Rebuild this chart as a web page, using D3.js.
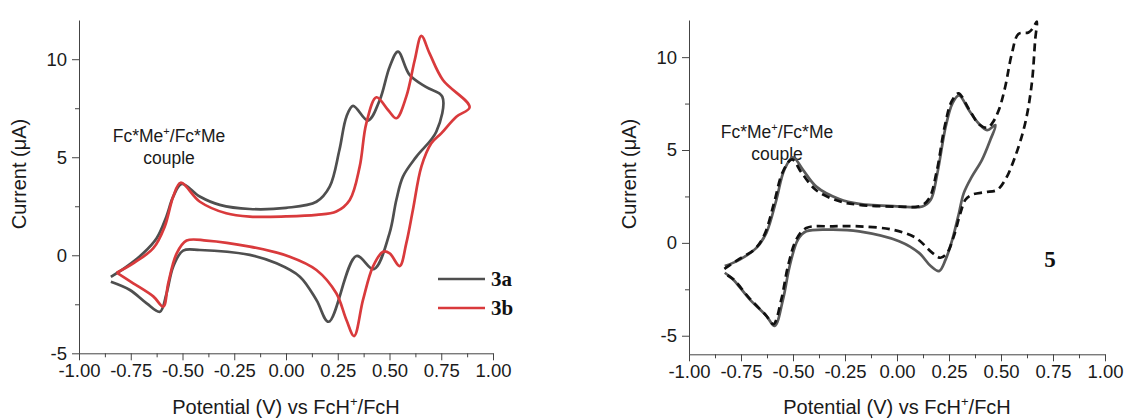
<!DOCTYPE html>
<html>
<head>
<meta charset="utf-8">
<script src="https://cdn.jsdelivr.net/npm/d3@7"></script>
<style>
  body { margin: 0; background: #fff; }
  svg { display: block; font-family: "Liberation Sans", Arial, sans-serif; }
  .axis path, .axis line { stroke: #444; }
  .axis text { fill: #1a1a1a; font-size: 18.5px; font-family: "Liberation Sans", Arial, sans-serif; }
</style>
</head>
<body>
<svg id="chart" width="1124" height="418"></svg>
<script>
// tick values
var xTicks = [-1, -0.75, -0.5, -0.25, 0, 0.25, 0.5, 0.75, 1];
var xMinor = [-0.875, -0.625, -0.375, -0.125, 0.125, 0.375, 0.625, 0.875];
var yTicks = [-5, 0, 5, 10];
var yMinor = [-2.5, 2.5, 7.5];

// left panel: 3a and 3b cyclic voltammograms [potential V, current uA]
var cv3a = [
  [-0.846,-1.1],[-0.77,-0.58],[-0.69,0.1],[-0.625,0.87],[-0.578,1.97],[-0.545,2.99],
  [-0.504,3.64],[-0.417,3.0],[-0.32,2.57],[-0.175,2.36],[0.0,2.42],[0.147,2.73],
  [0.211,3.5],[0.258,5.37],[0.292,7.07],[0.324,7.62],[0.396,6.87],[0.453,7.92],
  [0.501,9.62],[0.541,10.39],[0.597,9.2],[0.678,8.57],[0.755,8.09],
  [0.726,6.3],[0.63,5.03],[0.565,4.01],[0.533,2.82],[0.50,1.12],[0.424,-0.71],
  [0.34,-0.04],[0.206,-3.39],[0.147,-2.28],[0.067,-1.09],[-0.046,-0.41],[-0.175,0.02],
  [-0.416,0.27],[-0.497,0.24],[-0.545,-0.58],[-0.577,-1.94],[-0.609,-2.88],
  [-0.673,-2.45],[-0.754,-1.77],[-0.846,-1.35]
];
var cv3b = [
  [-0.818,-0.89],[-0.738,-0.41],[-0.641,0.36],[-0.586,1.46],[-0.545,2.99],[-0.509,3.7],
  [-0.416,2.73],[-0.289,2.14],[-0.175,1.97],[0.0,1.98],[0.147,2.06],[0.243,2.23],
  [0.308,2.82],[0.356,4.52],[0.388,6.73],[0.437,8.06],[0.493,7.41],[0.533,6.99],
  [0.581,8.09],[0.622,9.96],[0.654,11.19],[0.693,10.31],[0.758,8.94],[0.887,7.55],
  [0.823,7.07],[0.75,6.22],[0.702,5.71],[0.654,4.52],[0.613,2.31],[0.581,0.61],
  [0.549,-0.55],[0.501,0.1],[0.469,0.18],[0.42,-0.58],[0.372,-2.28],[0.329,-4.12],
  [0.292,-3.3],[0.243,-1.94],[0.147,-0.75],[0.018,-0.07],[-0.175,0.44],[-0.384,0.75],
  [-0.48,0.75],[-0.528,0.1],[-0.569,-1.43],[-0.593,-2.62],[-0.64,-2.11],
  [-0.738,-1.43],[-0.818,-0.89]
];

// right panel: compound 5, solid and dashed scans
var cv5 = [
  [-0.828,-1.25],[-0.756,-0.9],[-0.676,-0.27],[-0.628,0.54],[-0.58,2.32],[-0.542,3.93],
  [-0.50,4.6],[-0.452,3.93],[-0.388,3.03],[-0.278,2.36],[-0.182,2.1],[0.0,1.97],
  [0.122,1.96],[0.162,2.32],[0.194,3.75],[0.234,6.25],[0.266,7.5],[0.298,7.94],
  [0.346,7.14],[0.393,6.43],[0.433,6.07],[0.473,6.34],
  [0.448,5.53],[0.408,4.46],[0.36,3.57],[0.321,2.68],[0.298,1.61],[0.266,0.18],
  [0.234,-0.89],[0.202,-1.52],[0.162,-1.25],[0.106,-0.54],[0.01,0.09],[-0.182,0.62],
  [-0.309,0.71],[-0.436,0.62],[-0.476,0.18],[-0.516,-1.25],[-0.548,-3.04],
  [-0.588,-4.47],[-0.628,-3.93],[-0.708,-3.04],[-0.788,-1.97],[-0.828,-1.61]
];
var cv5ext = [
  [-0.83,-1.4],[-0.756,-0.85],[-0.68,-0.3],[-0.635,0.5],[-0.59,2.2],[-0.55,3.8],
  [-0.505,4.5],[-0.46,3.8],[-0.39,2.85],[-0.28,2.25],[-0.182,2.05],[0.0,1.95],
  [0.115,2.0],[0.155,2.4],[0.19,3.8],[0.23,6.3],[0.262,7.6],[0.295,8.05],[0.346,7.2],
  [0.393,6.4],[0.433,6.2],[0.457,6.43],[0.489,7.14],[0.52,8.39],[0.552,10.18],
  [0.584,11.25],[0.632,11.33],[0.656,11.6],[0.672,11.92],
  [0.664,10.89],[0.648,8.57],[0.616,6.43],[0.568,4.64],[0.52,3.39],[0.481,2.85],
  [0.424,2.73],[0.36,2.59],[0.329,2.32],[0.305,1.61],[0.273,0.35],[0.241,-0.54],
  [0.209,-0.8],[0.17,-0.54],[0.09,0.27],[-0.022,0.71],[-0.182,0.89],[-0.309,0.89],
  [-0.436,0.8],[-0.484,0.18],[-0.524,-1.25],[-0.556,-3.04],[-0.594,-4.38],
  [-0.63,-3.9],[-0.708,-3.0],[-0.788,-1.95],[-0.83,-1.65]
];

var legendNames = ["3a", "3b"];
var legendColors = ["#4f4f4f", "#d93a3c"];

var svg = d3.select("#chart");

var drawPanel = function(p){
    var xScale = d3.scaleLinear().domain([-1, 1]).range([p.left, p.right]);
    var yScale = d3.scaleLinear().domain(p.yDomain).range([p.bottom, p.top]);

    // minor ticks first
    svg.append("g").attr("class", "axis")
        .attr("transform", "translate(0," + p.bottom + ")")
        .call(d3.axisBottom(xScale).tickValues(xMinor).tickSize(4).tickSizeOuter(0).tickFormat(""))
        .select(".domain").remove();
    svg.append("g").attr("class", "axis")
        .attr("transform", "translate(" + p.left + ",0)")
        .call(d3.axisLeft(yScale).tickValues(yMinor).tickSize(4).tickSizeOuter(0).tickFormat(""))
        .select(".domain").remove();

    svg.append("g").attr("class", "axis")
        .attr("transform", "translate(0," + p.bottom + ")")
        .call(d3.axisBottom(xScale).tickValues(xTicks).tickSize(7).tickSizeOuter(0)
            .tickPadding(4).tickFormat(function(d){ return d3.format(".2f")(d).replace("−", "-"); }));
    svg.append("g").attr("class", "axis")
        .attr("transform", "translate(" + p.left + ",0)")
        .call(d3.axisLeft(yScale).tickValues(yTicks).tickSize(7).tickSizeOuter(0)
            .tickPadding(5).tickFormat(function(d){ return String(d).replace("−", "-"); }));

    // axis titles
    var xt = svg.append("text")
        .attr("x", (p.left + p.right) / 2).attr("y", 414)
        .attr("text-anchor", "middle").style("font-size", "20px").attr("fill", "#1a1a1a");
    xt.append("tspan").text("Potential (V) vs FcH");
    xt.append("tspan").text("+").style("font-size", "13px").attr("dy", -8);
    xt.append("tspan").text("/FcH").attr("dy", 8);

    svg.append("text")
        .attr("transform", "translate(" + p.yTitleX + ",174) rotate(-90)")
        .attr("text-anchor", "middle").style("font-size", "20px").attr("fill", "#1a1a1a")
        .text("Current (\u03bcA)");

    // couple annotation
    var a = svg.append("text")
        .attr("x", p.noteX).attr("y", p.noteY)
        .attr("text-anchor", "middle").style("font-size", "17.5px").attr("fill", "#1a1a1a");
    a.append("tspan").text("Fc*Me");
    a.append("tspan").text("+").style("font-size", "11px").attr("dy", -7);
    a.append("tspan").text("/Fc*Me").attr("dy", 7);
    svg.append("text")
        .attr("x", p.noteX).attr("y", p.noteY + 22)
        .attr("text-anchor", "middle").style("font-size", "17.5px").attr("fill", "#1a1a1a")
        .text("couple");

    var line = d3.line()
        .x(function(d){ return xScale(d[0]); })
        .y(function(d){ return yScale(d[1]); })
        .curve(d3.curveCatmullRom.alpha(0.5));

    p.series.forEach(function(s){
        svg.append("path")
            .datum(s.data)
            .attr("d", line)
            .attr("fill", "none")
            .attr("stroke", s.color)
            .attr("stroke-width", 2.7)
            .attr("stroke-linejoin", "round")
            .attr("stroke-dasharray", s.dash || null);
    });
    return {x: xScale, y: yScale};
};

drawPanel({
    left: 79, right: 493, top: 20, bottom: 353.3, yDomain: [-5, 12],
    yTitleX: 26, noteX: 169, noteY: 142,
    series: [
        {data: cv3a, color: legendColors[0]},
        {data: cv3b, color: legendColors[1]}
    ]
});

drawPanel({
    left: 689, right: 1105, top: 20, bottom: 354.3, yDomain: [-6, 12],
    yTitleX: 636, noteX: 777, noteY: 138,
    series: [
        {data: cv5, color: "#5a5a5a"},
        {data: cv5ext, color: "#111", dash: "8,5"}
    ]
});

// legend for left panel
var leg = svg.append("g").selectAll("g")
    .data(legendNames)
    .enter().append("g")
    .attr("transform", function(d, i){ return "translate(438," + (279 + i * 29) + ")"; });
leg.append("line")
    .attr("x1", 0).attr("x2", 47)
    .attr("stroke", function(d, i){ return legendColors[i]; })
    .attr("stroke-width", 2.7);
leg.append("text")
    .attr("x", 53).attr("y", 7)
    .style("font-family", "'Liberation Serif', 'Times New Roman', serif")
    .style("font-weight", "bold").style("font-size", "21px").attr("fill", "#111")
    .text(function(d){ return d; });

// label on right panel
svg.append("text")
    .attr("x", 1050).attr("y", 267)
    .attr("text-anchor", "middle")
    .style("font-family", "'Liberation Serif', 'Times New Roman', serif")
    .style("font-weight", "bold").style("font-size", "23px").attr("fill", "#111")
    .text("5");
</script>
</body>
</html>
